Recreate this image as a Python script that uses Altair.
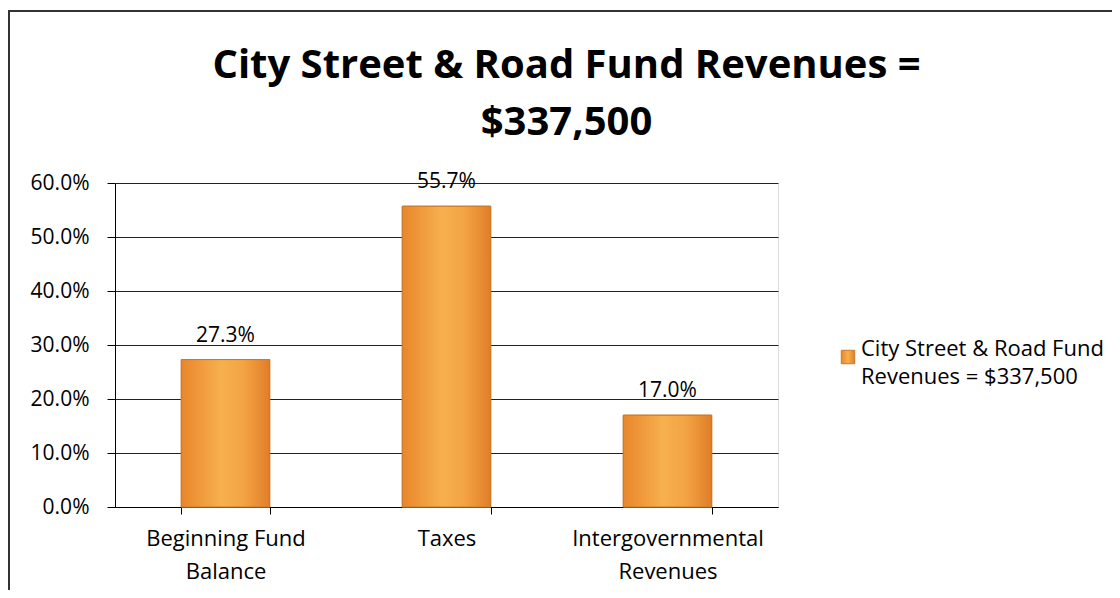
import altair as alt
import pandas as pd

categories = ["Beginning Fund|Balance", "Taxes", "Intergovernmental|Revenues"]
shares = [0.273, 0.557, 0.170]
series_name = "City Street & Road Fund|Revenues = $337,500"
title_lines = ["City Street & Road Fund Revenues =", "$337,500"]
y_ticks = [0.0, 0.1, 0.2, 0.3, 0.4, 0.5, 0.6]

df = pd.DataFrame({"cat": categories, "share": shares, "series": [series_name] * 3})
legend_df = pd.DataFrame({"series": [series_name]})

FONT = "Open Sans"
W, H = 663, 324
BAR_COLOR = "#F29A38"
BAR_EDGE = "#C9782A"

x_enc = alt.X(
    "cat:N",
    sort=categories,
    scale=alt.Scale(paddingInner=0.6, paddingOuter=0.3),
    axis=alt.Axis(
        title=None,
        labelAngle=0,
        labelExpr="split(datum.label, '|')",
        labelFontSize=22,
        labelLineHeight=33,
        labelPadding=14,
        labelColor="black",
        labelFont=FONT,
        tickBand="extent",
        tickSize=7,
        tickColor="black",
        domainColor="black",
        labelLimit=300,
    ),
)
y_enc = alt.Y(
    "share:Q",
    scale=alt.Scale(domain=[0, 0.6], nice=False),
    axis=alt.Axis(
        title=None,
        format=".1%",
        values=y_ticks,
        labelFontSize=21,
        labelColor="black",
        labelFont=FONT,
        labelPadding=18,
        tickSize=8,
        tickColor="black",
        domainColor="black",
        gridColor="#222222",
        gridWidth=1,
    ),
)

one = pd.DataFrame({"k": [0]})

frame = alt.Chart(one).mark_rect(
    fill=None, stroke="#333333", strokeWidth=2
).encode(
    x=alt.value(-106), x2=alt.value(W + 400), y=alt.value(-172), y2=alt.value(460)
)

title = alt.Chart(one).mark_text(
    text=title_lines,
    font=FONT,
    fontSize=40,
    fontWeight="bold",
    color="black",
    align="center",
    baseline="middle",
    lineHeight=57,
).encode(x=alt.value(W / 2 + 120), y=alt.value(-117))

bars = alt.Chart(df).mark_bar(stroke=BAR_EDGE, strokeWidth=1, color=BAR_COLOR).encode(
    x=x_enc, y=y_enc
)

shine = alt.Chart(df).mark_bar(
    color=alt.Gradient(
        gradient="linear",
        stops=[
            alt.GradientStop(color="#E9862B", offset=0),
            alt.GradientStop(color="#F7B04E", offset=0.45),
            alt.GradientStop(color="#F4A444", offset=0.7),
            alt.GradientStop(color="#E07E28", offset=1),
        ],
        x1=0, x2=1, y1=0, y2=0,
    ),
    stroke=BAR_EDGE,
    strokeWidth=1,
).encode(x=alt.X("cat:N", sort=categories), y="share:Q")

labels = alt.Chart(df).mark_text(
    dy=-14, fontSize=21, font=FONT, color="black", baseline="bottom"
).encode(
    x=alt.X("cat:N", sort=categories),
    y="share:Q",
    text=alt.Text("share:Q", format=".1%"),
)

legend_symbol = alt.Chart(legend_df).mark_square(
    size=180,
    color=alt.Gradient(
        gradient="linear",
        stops=[
            alt.GradientStop(color="#E9862B", offset=0),
            alt.GradientStop(color="#F7B04E", offset=0.5),
            alt.GradientStop(color="#E07E28", offset=1),
        ],
        x1=0, x2=1, y1=0, y2=0,
    ),
    stroke=BAR_EDGE,
    strokeWidth=1,
    opacity=1,
).encode(x=alt.value(733), y=alt.value(174))

legend_text = alt.Chart(legend_df).transform_calculate(
    lines="split(datum.series, '|')"
).mark_text(
    align="left", baseline="top", fontSize=22, font=FONT, color="black", lineHeight=28
).encode(x=alt.value(746), y=alt.value(156), text="lines:N")

chart = alt.layer(frame, title, bars, shine, labels, legend_symbol, legend_text).properties(
    width=W,
    height=H,
    autosize=alt.AutoSizeParams(type="none"),
    padding={"left": 107, "top": 175, "right": 334, "bottom": 83},
).configure_view(stroke=None).configure(background="white")

chart.save("out.html", embed_options={"renderer": "svg", "actions": False})
